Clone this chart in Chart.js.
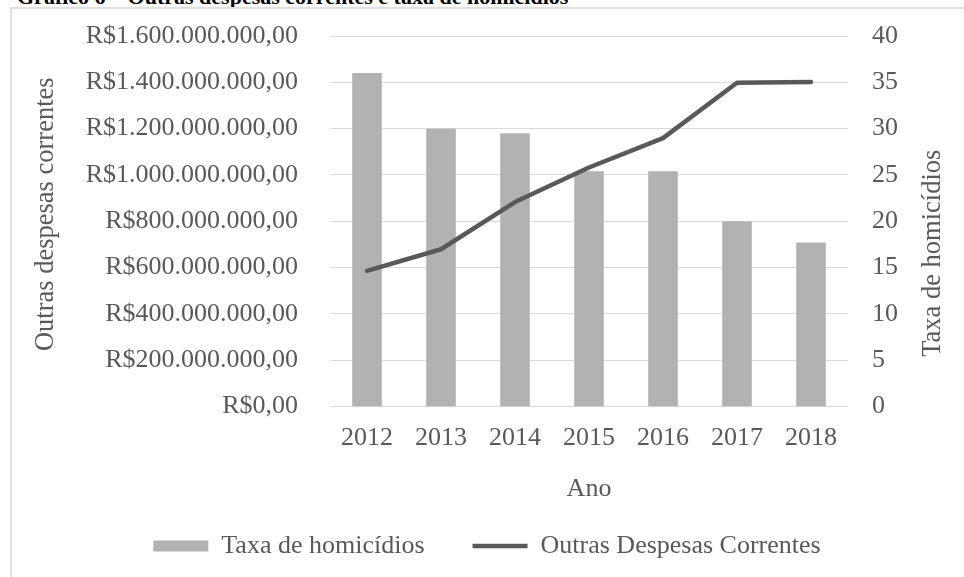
<!DOCTYPE html>
<html lang="pt-BR">
<head>
<meta charset="utf-8">
<title>Gráfico 6 – Outras despesas correntes e taxa de homicídios</title>
<script src="https://cdn.jsdelivr.net/npm/chart.js@4"></script>
<style>
  html, body { margin: 0; padding: 0; background: #fff; }
  body { width: 964px; height: 577px; position: relative; overflow: hidden; }
  #titulo {
    position: absolute; left: 17px; top: -14px; margin: 0;
    font: bold 22px/22px 'Liberation Serif', 'Times New Roman', serif;
    color: #000; white-space: nowrap;
  }
  #moldura {
    position: absolute; left: 10px; top: 7px; width: 1000px; height: 600px;
    border: 2px solid #e0e0e0; box-sizing: border-box;
  }
  #wrap { position: absolute; left: 0; top: 0; width: 964px; height: 577px; }
</style>
</head>
<body>
<h1 id="titulo">Gráfico 6 – Outras despesas correntes e taxa de homicídios</h1>
<div id="moldura"></div>
<div id="wrap"><canvas id="grafico"></canvas></div>
<script>
document.addEventListener('DOMContentLoaded', function () {
    // Dados
    const anos = ['2012', '2013', '2014', '2015', '2016', '2017', '2018'];
    const taxaHomicidios = [36, 30, 29.5, 25.4, 25.4, 20, 17.7];
    const outrasDespesas = [586e6, 679e6, 883e6, 1032e6, 1159e6, 1398e6, 1401e6];

    const cinzaTexto = '#595959';
    const fonte = "'Liberation Serif', 'Times New Roman', serif";

    Chart.defaults.font.family = fonte;
    Chart.defaults.font.size = 26;
    Chart.defaults.color = cinzaTexto;

    // R$ com separador de milhar e duas casas
    function formatReal(v) {
        const s = Math.round(v).toString().replace(/\B(?=(\d{3})+(?!\d))/g, '.');
        return 'R$' + s + ',00';
    }

    // titulos dos eixos verticais, ambos lidos de baixo para cima
    const titulosEixos = {
        id: 'titulosEixos',
        afterDraw(chart) {
            const { ctx, chartArea, scales } = chart;
            const meio = (chartArea.top + chartArea.bottom) / 2;
            const escrever = (texto, x, y) => {
                ctx.save();
                ctx.translate(x, y);
                ctx.rotate(-Math.PI / 2);
                ctx.font = '26.5px ' + fonte;
                ctx.fillStyle = cinzaTexto;
                ctx.textAlign = 'center';
                ctx.textBaseline = 'middle';
                ctx.fillText(texto, 0, 0);
                ctx.restore();
            };
            escrever('Outras despesas correntes', scales.y.left + 36, meio - 7);
            escrever('Taxa de homicídios', scales.y1.right - 31, meio + 32);
        }
    };

    const ctx = document.getElementById('grafico').getContext('2d');
    new Chart(ctx, {
        data: {
            labels: anos,
            datasets: [{
                type: 'bar',
                label: 'Taxa de homicídios',
                data: taxaHomicidios,
                yAxisID: 'y1',
                backgroundColor: '#b2b2b2',
                barPercentage: 0.4,
                categoryPercentage: 1,
                pointStyle: 'rect',
                order: 1
            }, {
                type: 'line',
                label: 'Outras Despesas Correntes',
                data: outrasDespesas,
                yAxisID: 'y',
                borderColor: cinzaTexto,
                backgroundColor: cinzaTexto,
                borderWidth: 4.5,
                borderCapStyle: 'round',
                borderJoinStyle: 'round',
                pointRadius: 0,
                pointStyle: 'line',
                tension: 0,
                order: 0
            }]
        },
        options: {
            responsive: true,
            maintainAspectRatio: false,
            animation: false,
            layout: { padding: { top: 36, left: 10, right: 0, bottom: 8 } },
            plugins: {
                tooltip: { enabled: false },
                legend: {
                    position: 'bottom',
                    labels: {
                        usePointStyle: true,
                        pointStyleWidth: 55,
                        boxHeight: 11,
                        padding: 48,
                        color: cinzaTexto,
                        sort: (a, b) => a.datasetIndex - b.datasetIndex
                    }
                }
            },
            scales: {
                x: {
                    grid: { display: false, drawTicks: false },
                    border: { display: false },
                    ticks: { padding: 16, maxRotation: 0 },
                    title: { display: true, text: 'Ano', padding: { top: 0, bottom: -20 } },
                    afterFit(scale) {
                        scale.height = 78.5;
                        scale.paddingLeft = 0;
                        scale.paddingRight = 0;
                    }
                },
                y: {
                    position: 'left',
                    min: 0,
                    max: 1600000000,
                    ticks: { stepSize: 200000000, padding: 32, callback: formatReal },
                    grid: { color: '#d9d9d9', lineWidth: 1, drawTicks: false },
                    border: { display: false },
                    afterFit(scale) {
                        scale.width = 320;
                        scale.paddingTop = 0;
                        scale.paddingBottom = 0;
                    }
                },
                y1: {
                    position: 'right',
                    min: 0,
                    max: 40,
                    ticks: { stepSize: 5, padding: 24 },
                    grid: { display: false, drawTicks: false },
                    border: { display: false },
                    afterFit(scale) {
                        scale.width = 116;
                        scale.paddingTop = 0;
                        scale.paddingBottom = 0;
                    }
                }
            }
        },
        plugins: [titulosEixos]
    });
});
</script>
</body>
</html>
